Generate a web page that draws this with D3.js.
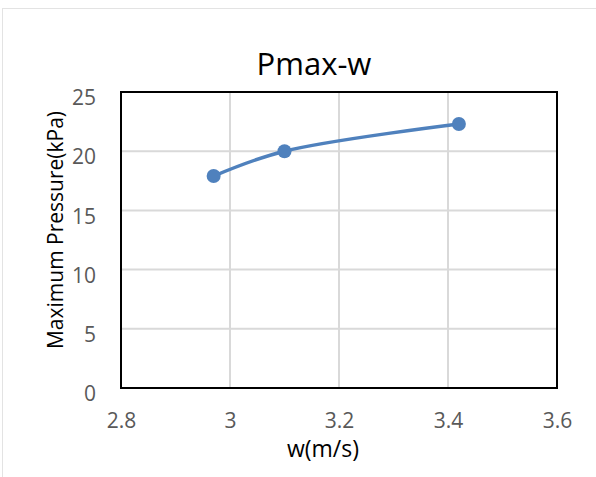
<!DOCTYPE html>
<html>
<head>
<meta charset="utf-8">
<script src="https://cdn.jsdelivr.net/npm/d3@7"></script>
<style>
  html, body { margin: 0; padding: 0; background: #fff; }
  svg { display: block; }
  text { font-family: "Open Sans", "Liberation Sans", sans-serif; }
</style>
</head>
<body>
<svg id="chart" width="596" height="477"></svg>
<script>
// Measured points: wind speed w (m/s) vs maximum pressure (kPa)
const speeds = [2.97, 3.10, 3.42];
const pressures = [17.9, 20.0, 22.3];
const xTicks = [2.8, 3.0, 3.2, 3.4, 3.6];
const yTicks = [0, 5, 10, 15, 20, 25];
const chartTitle = "Pmax-w";
const xTitle = "w(m/s)";
const yTitle = "Maximum Pressure(kPa)";

const svg = d3.select("#chart");
const W = 596, H = 477;
const plot = { left: 121, top: 92, right: 557, bottom: 388 };

// Chart area border
svg.append("rect")
  .attr("x", 2.5).attr("y", 8.5)
  .attr("width", W + 10).attr("height", H + 10)
  .attr("fill", "#fff").attr("stroke", "#e3e3e3").attr("stroke-width", 1);

const x = d3.scaleLinear().domain([2.8, 3.6]).range([plot.left, plot.right]);
const y = d3.scaleLinear().domain([0, 25]).range([plot.bottom, plot.top]);

// Gridlines
const grid = svg.append("g");
grid.selectAll(".gx").data(xTicks.slice(1, -1)).join("line")
  .attr("x1", d => x(d)).attr("x2", d => x(d))
  .attr("y1", plot.top).attr("y2", plot.bottom)
  .attr("stroke", "#d9d9d9").attr("stroke-width", 2);
grid.selectAll(".gy").data(yTicks.slice(1, -1)).join("line")
  .attr("x1", plot.left).attr("x2", plot.right)
  .attr("y1", d => y(d)).attr("y2", d => y(d))
  .attr("stroke", "#d9d9d9").attr("stroke-width", 2);

// Plot frame
svg.append("rect")
  .attr("x", plot.left).attr("y", plot.top)
  .attr("width", plot.right - plot.left).attr("height", plot.bottom - plot.top)
  .attr("fill", "none").attr("stroke", "#000").attr("stroke-width", 2);

// Axes (labels only, frame drawn above)
const xAxis = svg.append("g")
  .attr("transform", `translate(0,${plot.bottom + 22})`)
  .call(d3.axisBottom(x).tickValues(xTicks).tickSize(0).tickFormat(d3.format("~g")));
xAxis.select(".domain").remove();
xAxis.selectAll("text").attr("font-size", 21).attr("fill", "#595959")
  .attr("font-family", "'Open Sans', sans-serif");

const yAxis = svg.append("g")
  .attr("transform", `translate(${plot.left - 22},0)`)
  .call(d3.axisLeft(y).tickValues(yTicks).tickSize(0));
yAxis.select(".domain").remove();
yAxis.selectAll("text").attr("font-size", 21).attr("fill", "#595959")
  .attr("dy", "0.6em")
  .attr("font-family", "'Open Sans', sans-serif");

// Titles
svg.append("text").attr("x", 314).attr("y", 75)
  .attr("text-anchor", "middle").attr("font-size", 31).attr("fill", "#000")
  .text(chartTitle);
svg.append("text").attr("x", 323).attr("y", 457)
  .attr("text-anchor", "middle").attr("font-size", 23).attr("fill", "#000")
  .text(xTitle);
svg.append("text")
  .attr("transform", "translate(63,230) rotate(-90)")
  .attr("text-anchor", "middle").attr("font-size", 21).attr("fill", "#000")
  .text(yTitle);

// Series: smoothed line with circle markers
const pts = speeds.map((s, i) => [s, pressures[i]]);
const line = d3.line()
  .x(d => x(d[0])).y(d => y(d[1]))
  .curve(d3.curveCatmullRom.alpha(0.5));
svg.append("path").datum(pts)
  .attr("d", line).attr("fill", "none")
  .attr("stroke", "#4f81bd").attr("stroke-width", 3.5)
  .attr("stroke-linecap", "round");
svg.selectAll(".pt").data(pts).join("circle")
  .attr("cx", d => x(d[0])).attr("cy", d => y(d[1]))
  .attr("r", 7).attr("fill", "#4f81bd");
</script>
</body>
</html>
